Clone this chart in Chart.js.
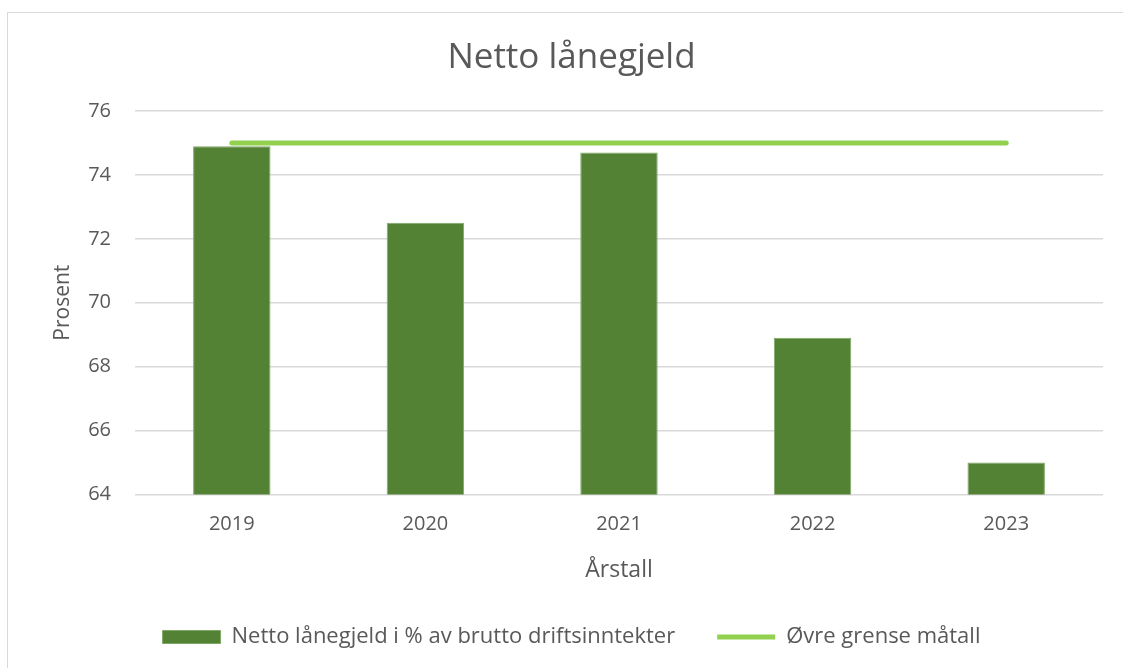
<!DOCTYPE html>
<html lang="no">
<head>
    <meta charset="UTF-8">
    <title>Netto lånegjeld</title>
    <style>
        html, body {
            margin: 0;
            padding: 0;
            background: #fff;
            overflow: hidden;
        }
        .frame {
            position: absolute;
            left: 7px;
            top: 12px;
            width: 1130px;
            height: 670px;
            border: 1px solid #d9d9d9;
        }
        .chart-box {
            position: absolute;
            left: 0;
            top: 0;
            width: 1123px;
            height: 668px;
        }
    </style>
</head>
<body>
    <div class="frame"></div>
    <div class="chart-box">
        <canvas id="loanChart"></canvas>
    </div>

    <script src="https://cdn.jsdelivr.net/npm/chart.js"></script>
    <script>
        // Data
        const years = ['2019', '2020', '2021', '2022', '2023'];
        const netDebtPct = [74.9, 72.5, 74.7, 68.9, 65.0];
        const upperLimit = [75, 75, 75, 75, 75];
        const yTicks = [64, 66, 68, 70, 72, 74, 76];

        const fontFamily = '"Open Sans", Lato, sans-serif';
        const grey = '#595959';

        const ctx = document.getElementById('loanChart').getContext('2d');
        const loanChart = new Chart(ctx, {
            type: 'bar',
            data: {
                labels: years,
                datasets: [
                    {
                        label: 'Netto lånegjeld i % av brutto driftsinntekter',
                        data: netDebtPct,
                        backgroundColor: '#548235',
                        borderColor: '#7fa866',
                        borderWidth: 1,
                        categoryPercentage: 1,
                        barPercentage: 0.4,
                        pointStyle: 'rect'
                    },
                    {
                        type: 'line',
                        label: 'Øvre grense måtall',
                        data: upperLimit,
                        borderColor: '#92d050',
                        backgroundColor: '#92d050',
                        borderWidth: 5,
                        borderCapStyle: 'round',
                        pointRadius: 0,
                        pointHoverRadius: 0,
                        pointStyle: 'line',
                        fill: false
                    }
                ]
            },
            options: {
                responsive: true,
                maintainAspectRatio: false,
                animation: false,
                layout: {
                    padding: { left: 40, right: 20, top: 14, bottom: 10 }
                },
                plugins: {
                    title: {
                        display: true,
                        text: 'Netto lånegjeld',
                        color: grey,
                        font: { family: fontFamily, size: 35, weight: 'normal' },
                        padding: { top: 23, bottom: 32 }
                    },
                    legend: {
                        position: 'bottom',
                        labels: {
                            usePointStyle: true,
                            pointStyleWidth: 58,
                            boxHeight: 13,
                            padding: 42,
                            color: grey,
                            font: { family: fontFamily, size: 22 }
                        }
                    },
                    tooltip: { enabled: false }
                },
                scales: {
                    x: {
                        grid: { display: false },
                        border: { display: false },
                        ticks: {
                            color: grey,
                            padding: 10,
                            font: { family: fontFamily, size: 20 }
                        },
                        title: {
                            display: true,
                            text: 'Årstall',
                            color: grey,
                            font: { family: fontFamily, size: 23 },
                            padding: { top: 10, bottom: 0 }
                        }
                    },
                    y: {
                        min: 64,
                        max: 76,
                        afterBuildTicks: (scale) => {
                            scale.ticks = yTicks.map(v => ({ value: v }));
                        },
                        afterFit: (scale) => {
                            scale.width = 95;
                        },
                        grid: { color: '#d9d9d9', lineWidth: 1.5, drawTicks: false },
                        border: { display: false },
                        ticks: {
                            color: grey,
                            padding: 24,
                            font: { family: fontFamily, size: 20 }
                        },
                        title: {
                            display: true,
                            text: 'Prosent',
                            color: grey,
                            font: { family: fontFamily, size: 21 },
                            padding: { top: 10, bottom: 0 }
                        }
                    }
                }
            }
        });
    </script>
</body>
</html>
